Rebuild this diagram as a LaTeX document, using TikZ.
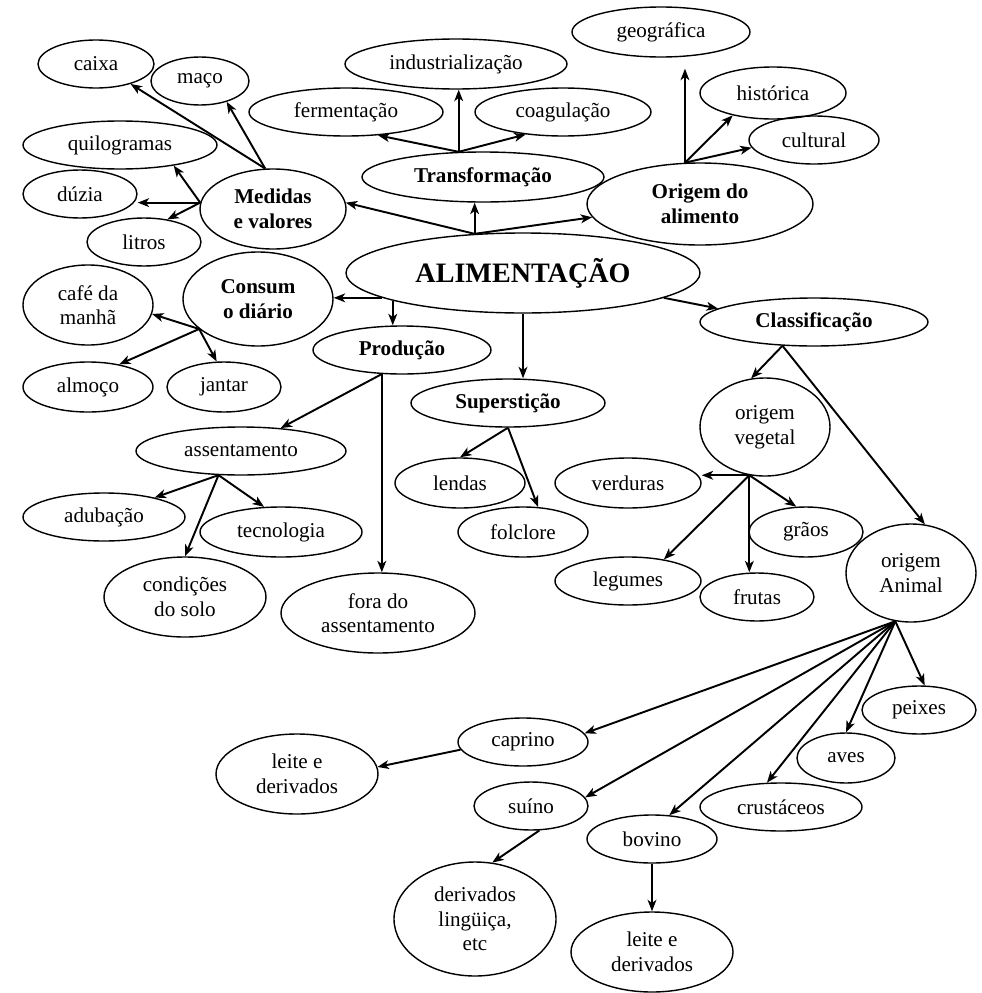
\documentclass[tikz,border=0pt]{standalone}
\usepackage{fontspec}
\setmainfont{Liberation Serif}
\usepackage{tikz}
\usetikzlibrary{shapes.geometric}
\usetikzlibrary{arrows.meta}
\tikzset{
  bubble/.style={ellipse, draw, line width=0.8pt, inner sep=0pt,
    align=center, font=\fontsize{12}{14}\selectfont},
  bbubble/.style={bubble, font=\fontsize{12}{14}\selectfont\bfseries},
  sz/.style 2 args={minimum width=#1cm, minimum height=#2cm},
  arr/.style={-{Stealth[length=6.5pt, width=5pt, inset=1.8pt]}, line width=1.1pt}
}

\begin{document}
\begin{tikzpicture}

    \useasboundingbox (0,0) rectangle (19.62,-19.86);

    % Centre
    \node[bbubble, sz={7.08}{1.60}, font=\fontsize{16}{18}\selectfont\bfseries] (alim) at (10.46,-5.46) {ALIMENTAÇÃO};

    % Main topics
    \node[bbubble, sz={2.92}{1.60}] (med) at (5.46,-4.18) {Medidas\\e valores};
    \node[bbubble, sz={4.84}{1.00}] (trans) at (9.66,-3.54) {Transformação};
    \node[bbubble, sz={4.52}{1.64}] (orig) at (14.00,-4.08) {Origem do\\alimento};
    \node[bbubble, sz={3.00}{1.88}] (cons) at (5.16,-5.98) {Consum\\o diário};
    \node[bbubble, sz={3.56}{0.96}] (prod) at (8.04,-7.00) {Produção};
    \node[bbubble, sz={3.88}{0.96}] (sup) at (10.16,-8.06) {Superstição};
    \node[bbubble, sz={4.56}{0.96}] (class) at (16.28,-6.44) {Classificação};

    % Measures
    \node[bubble, sz={2.32}{0.96}] (caixa) at (1.92,-1.28) {caixa};
    \node[bubble, sz={1.96}{0.96}] (maco) at (4.00,-1.62) {maço};
    \node[bubble, sz={3.88}{0.96}] (quilo) at (2.40,-2.90) {quilogramas};
    \node[bubble, sz={2.28}{0.96}] (duzia) at (1.60,-3.88) {dúzia};
    \node[bubble, sz={2.28}{0.96}] (litros) at (2.88,-4.84) {litros};

    % Transformation
    \node[bubble, sz={3.88}{0.96}] (ferm) at (6.92,-2.24) {fermentação};
    \node[bubble, sz={4.44}{1.00}] (ind) at (9.12,-1.28) {industrialização};
    \node[bubble, sz={3.52}{0.96}] (coag) at (11.26,-2.24) {coagulação};

    % Origin
    \node[bubble, sz={3.56}{1.00}] (geo) at (13.22,-0.64) {geográfica};
    \node[bubble, sz={2.92}{1.04}] (hist) at (15.46,-1.86) {histórica};
    \node[bubble, sz={2.60}{0.96}] (cult) at (16.28,-2.80) {cultural};

    % Daily meals
    \node[bubble, sz={2.60}{1.60}] (cafe) at (1.76,-6.10) {café da\\manhã};
    \node[bubble, sz={2.60}{1.00}] (almoco) at (1.76,-7.74) {almoço};
    \node[bubble, sz={2.28}{1.00}] (jantar) at (4.48,-7.74) {jantar};

    % Production
    \node[bubble, sz={4.20}{0.96}] (assent) at (4.82,-9.02) {assentamento};
    \node[bubble, sz={3.24}{0.96}] (adub) at (2.08,-10.34) {adubação};
    \node[bubble, sz={3.24}{1.00}] (tec) at (5.62,-10.64) {tecnologia};
    \node[bubble, sz={3.24}{1.60}] (cond) at (3.70,-11.94) {condições\\do solo};
    \node[bubble, sz={3.88}{1.60}] (fora) at (7.56,-12.26) {fora do\\assentamento};

    % Superstition
    \node[bubble, sz={2.60}{1.00}] (lendas) at (9.20,-9.66) {lendas};
    \node[bubble, sz={2.60}{1.00}] (folk) at (10.46,-10.64) {folclore};

    % Vegetable origin
    \node[bubble, sz={2.60}{1.96}] (veg) at (15.30,-8.54) {origem\\vegetal};
    \node[bubble, sz={2.92}{1.00}] (verd) at (12.56,-9.66) {verduras};
    \node[bubble, sz={2.28}{1.00}] (graos) at (16.12,-10.64) {grãos};
    \node[bubble, sz={2.92}{0.96}] (leg) at (12.56,-11.62) {legumes};
    \node[bubble, sz={2.28}{0.96}] (frut) at (15.14,-11.94) {frutas};

    % Animal origin
    \node[bubble, sz={2.60}{1.96}] (anim) at (18.22,-11.46) {origem\\Animal};
    \node[bubble, sz={2.28}{0.96}] (peix) at (18.38,-14.20) {peixes};
    \node[bubble, sz={1.96}{1.00}] (aves) at (16.92,-15.16) {aves};
    \node[bubble, sz={3.24}{0.96}] (crust) at (15.62,-16.14) {crustáceos};
    \node[bubble, sz={2.60}{0.96}] (bov) at (13.04,-16.78) {bovino};
    \node[bubble, sz={2.60}{0.96}] (cap) at (10.46,-14.84) {caprino};
    \node[bubble, sz={2.28}{0.96}] (suino) at (10.62,-16.12) {suíno};
    \node[bubble, sz={3.24}{1.60}] (leiteA) at (5.94,-15.48) {leite e\\derivados};
    \node[bubble, sz={3.24}{2.28}] (deriv) at (9.50,-18.38) {derivados\\lingüiça,\\etc};
    \node[bubble, sz={3.24}{1.60}] (leiteB) at (13.04,-19.04) {leite e\\derivados};

    % Arrows: centre
    \draw[arr] (alim.141) -- (med.5);
    \draw[arr] (alim.141) -- (alim.141 |- trans.south);
    \draw[arr] (alim.141) -- (orig.187);
    \draw[arr] (alim.190) -- (alim.190 -| cons.east);
    \draw[arr] (alim.192) -- (alim.192 |- prod.north);
    \draw[arr] (alim.south) -- (alim.south |- sup.north);
    \draw[arr] (alim.350) -- (class.172);

    % Arrows: measures
    \draw[arr] (med.101) -- (caixa.330);
    \draw[arr] (med.101) -- (maco.322);
    \draw[arr] (med.175) -- (quilo.339);
    \draw[arr] (med.175) -- (med.175 -| duzia.east);
    \draw[arr] (med.175) -- (litros.44);

    % Arrows: transformation and origin
    \draw[arr] (trans.134) -- (ferm.324);
    \draw[arr] (trans.134) -- (trans.134 |- ind.south);
    \draw[arr] (trans.134) -- (coag.211);
    \draw[arr, shorten >=0.22cm] (orig.110) -- (orig.110 |- geo.south);
    \draw[arr] (orig.110) -- (hist.209);
    \draw[arr] (orig.110) -- (cult.187);

    % Arrows: meals
    \draw[arr] (cons.207) -- (cafe.352);
    \draw[arr] (cons.207) -- (almoco.36);
    \draw[arr] (cons.207) -- (jantar.106);

    % Arrows: production
    \draw[arr] (prod.230) -- (assent.30);
    \draw[arr] (prod.230) -- (prod.230 |- fora.north);
    \draw[arr] (assent.227) -- (adub.21);
    \draw[arr] (assent.227) -- (tec.124);
    \draw[arr] (assent.227) -- (cond.north);

    % Arrows: superstition
    \draw[arr] (sup.south) -- (lendas.north);
    \draw[arr] (sup.south) -- (folk.59);

    % Arrows: classification
    \draw[arr] (class.217) -- (veg.106);
    \draw[arr] (class.217) -- (anim.74);
    \draw[arr] (veg.252) -- (veg.252 -| verd.east);
    \draw[arr] (veg.252) -- (graos.111);
    \draw[arr] (veg.252) -- (leg.31);
    \draw[arr] (veg.252) -- (veg.252 |- frut.north);

    % Arrows: animals
    \draw[arr] (anim.252) -- (peix.77);
    \draw[arr] (anim.252) -- (aves.north);
    \draw[arr] (anim.252) -- (crust.120);
    \draw[arr] (anim.252) -- (bov.54);
    \draw[arr] (anim.252) -- (suino.9);
    \draw[arr] (anim.252) -- (cap.8);
    \draw[arr] (cap.187) -- (leiteA.5);
    \draw[arr] (suino.289) -- (deriv.73);
    \draw[arr] (bov.south) -- (leiteB.north);

\end{tikzpicture}
\end{document}
